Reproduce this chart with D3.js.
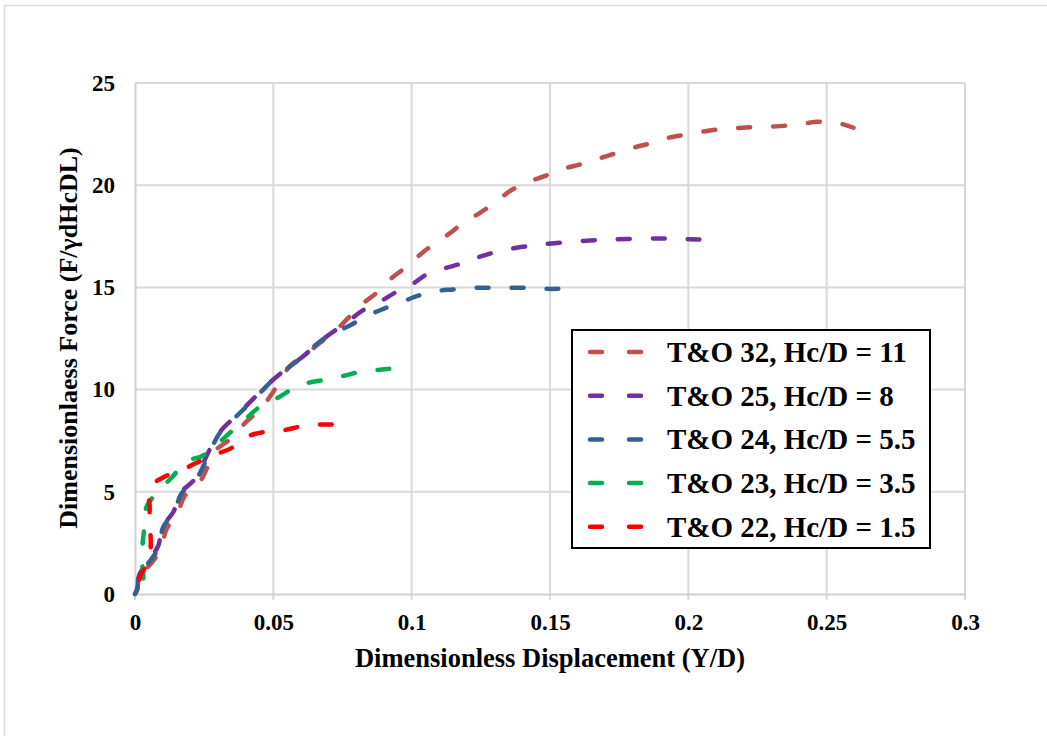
<!DOCTYPE html>
<html lang="en">
<head>
<meta charset="UTF-8">
<title>Dimensionless Force vs Displacement</title>
<script src="https://d3js.org/d3.v7.min.js"></script>
<style>
    body { margin: 0; background: #fff; }
    text { font-family: "Liberation Serif", "Times New Roman", serif; font-weight: bold; fill: #000; }
</style>
</head>
<body>
<svg id="chart" width="1047" height="736"></svg>
<script>
// series data: [Y/D, F/(γ d Hc D L)]
var to32 = [[0,0],[0.0008,0.2],[0.002,0.9],[0.0065,1.6],[0.0095,2.3],[0.0115,3.2],[0.0155,4.0],[0.018,4.8],
    [0.0235,5.5],[0.0265,6.3],[0.029,7.0],[0.0355,7.7],[0.04,8.4],[0.045,9.0],[0.0485,9.6],[0.0524,10.41],
    [0.056,11.15],[0.0608,11.63],[0.0669,12.29],[0.0717,12.78],[0.0771,13.51],[0.0819,14.16],[0.0874,14.74],
    [0.0922,15.39],[0.0976,15.96],[0.1024,16.53],[0.1078,17.1],[0.1132,17.59],[0.1187,18.16],[0.1247,18.65],
    [0.1301,19.14],[0.1355,19.71],[0.1413,20.12],[0.148,20.44],[0.154,20.77],[0.1607,21.01],[0.1667,21.26],
    [0.1734,21.55],[0.1801,21.83],[0.1868,22.07],[0.1928,22.32],[0.1995,22.48],[0.2062,22.64],[0.2129,22.76],
    [0.2195,22.81],[0.2263,22.86],[0.2329,22.89],[0.2396,22.97],[0.2463,23.1],[0.253,23.08],[0.2597,22.81]];
var to25 = [[0,0],[0.0006,0.2],[0.0016,0.95],[0.0052,1.7],[0.0084,2.35],[0.0098,3.25],[0.014,4.05],[0.0162,4.9],
    [0.0216,5.62],[0.0248,6.45],[0.0273,7.15],[0.0305,7.9],[0.0352,8.55],[0.0402,9.2],[0.045,9.85],[0.0498,10.47],
    [0.0555,11.1],[0.0608,11.63],[0.066,12.25],[0.0711,12.78],[0.0765,13.27],[0.0819,13.84],[0.0879,14.25],
    [0.094,14.74],[0.1,15.14],[0.1054,15.63],[0.1114,15.91],[0.1187,16.2],[0.1247,16.5],[0.1313,16.77],
    [0.138,16.94],[0.1446,17.06],[0.1506,17.15],[0.1578,17.23],[0.1645,17.3],[0.1714,17.34],[0.1848,17.39],
    [0.1915,17.39],[0.198,17.36],[0.204,17.34]];
var to24 = [[0,0],[0.0007,0.22],[0.0018,0.95],[0.0058,1.69],[0.0089,2.32],[0.0101,3.25],[0.0143,4.04],[0.0166,4.87],
    [0.022,5.6],[0.0253,6.42],[0.0277,7.15],[0.0307,7.89],[0.0355,8.54],[0.0404,9.19],[0.0452,9.84],[0.05,10.49],
    [0.0554,11.07],[0.0608,11.63],[0.0663,12.29],[0.0717,12.78],[0.0771,13.1],[0.0837,13.59],[0.0892,13.92],
    [0.0958,14.25],[0.1018,14.57],[0.1084,14.81],[0.115,14.9],[0.1223,14.98],[0.1283,14.98],[0.1355,14.98],
    [0.1422,14.98],[0.1488,14.93],[0.153,14.93]];
var to23 = [[0,0],[0.0003,0.2],[0.0029,0.71],[0.0024,1.69],[0.0028,2.52],[0.0036,3.5],[0.0042,4.28],[0.009,5.11],
    [0.0133,5.7],[0.0187,6.5],[0.0241,6.74],[0.0295,7.31],[0.0343,7.89],[0.0398,8.54],[0.0446,9.11],[0.0506,9.52],
    [0.0566,10.0],[0.0626,10.33],[0.0693,10.49],[0.0759,10.69],[0.0825,10.9],[0.0892,10.98],[0.0919,11.02]];
var to22 = [[0,0],[0.0004,0.12],[0.0022,0.95],[0.005,1.64],[0.0057,2.42],[0.0053,3.5],[0.0053,4.28],[0.0052,5.2],
    [0.01,5.69],[0.0169,6.06],[0.0223,6.42],[0.0289,6.82],[0.035,7.15],[0.0404,7.69],[0.0464,7.92],[0.0536,8.01],
    [0.0603,8.21],[0.0669,8.29],[0.0711,8.29]];

var seriesNames = ['T&O 32, Hc/D = 11', 'T&O 25, Hc/D = 8', 'T&O 24, Hc/D = 5.5', 'T&O 23, Hc/D = 3.5', 'T&O 22, Hc/D = 1.5'];
var seriesData = [to32, to25, to24, to23, to22];
var seriesColors = ['#C0504D', '#7030A0', '#366092', '#00B050', '#FF0000'];
var xTicks = [0, 0.05, 0.1, 0.15, 0.2, 0.25, 0.3];
var yTicks = [0, 5, 10, 15, 20, 25];

var svg = d3.select('#chart');

// chart area border
svg.append('rect')
    .attr('x', 4.5).attr('y', 5.5)
    .attr('width', 1100).attr('height', 800)
    .attr('fill', '#fff')
    .attr('stroke', '#d9d9d9')
    .attr('stroke-width', 1.5);

var xScale = d3.scaleLinear().domain([0, 0.3]).range([135, 965]);
var yScale = d3.scaleLinear().domain([0, 25]).range([594, 83]);

// gridlines
var grid = svg.append('g');
grid.selectAll('.vgrid').data(xTicks.slice(1)).enter().append('line')
    .attr('x1', d => xScale(d)).attr('x2', d => xScale(d))
    .attr('y1', yScale(25)).attr('y2', yScale(0) + 6)
    .attr('stroke', '#d9d9d9').attr('stroke-width', 2);
grid.selectAll('.hgrid').data(yTicks.slice(1)).enter().append('line')
    .attr('x1', xScale(0)).attr('x2', xScale(0.3))
    .attr('y1', d => yScale(d)).attr('y2', d => yScale(d))
    .attr('stroke', '#d9d9d9').attr('stroke-width', 2);

// axes
var xAxis = d3.axisBottom(xScale).tickValues(xTicks).tickSize(0).tickPadding(20)
    .tickFormat(d => d === 0 ? '0' : String(+d.toFixed(2)));
var yAxis = d3.axisLeft(yScale).tickValues(yTicks).tickSize(0).tickPadding(20);

var xAxisG = svg.append('g').attr('transform', `translate(0, ${yScale(0)})`).call(xAxis);
var yAxisG = svg.append('g').attr('transform', `translate(${xScale(0)}, 0)`).call(yAxis);
[xAxisG, yAxisG].forEach(g => {
    g.select('.domain').attr('stroke', '#d0d0d0').attr('stroke-width', 2);
    g.selectAll('text').style('font-size', '23px')
        .style('font-family', '"Liberation Serif", "Times New Roman", serif')
        .style('font-weight', 'bold');
});
xAxisG.append('line').attr('x1', xScale(0)).attr('x2', xScale(0)).attr('y1', 0).attr('y2', 6)
    .attr('stroke', '#d0d0d0').attr('stroke-width', 2);

// axis titles
svg.append('text')
    .attr('x', 550).attr('y', 667)
    .attr('text-anchor', 'middle')
    .style('font-size', '26.5px')
    .text('Dimensionless Displacement (Y/D)');
svg.append('text')
    .attr('transform', 'translate(77, 338) rotate(-90)')
    .attr('text-anchor', 'middle')
    .style('font-size', '26px')
    .text('Dimensionlaess Force (F/γdHcDL)');

// series
var line = d3.line()
    .x(d => xScale(d[0]))
    .y(d => yScale(d[1]))
    .curve(d3.curveCatmullRom.alpha(0.5));

var dash = 12, gap = 23;
svg.append('g').selectAll('path').data(seriesData).enter().append('path')
    .attr('d', d => line(d))
    .attr('fill', 'none')
    .attr('stroke', (d, i) => seriesColors[i])
    .attr('stroke-width', 4.5)
    .attr('stroke-linecap', 'round')
    .attr('stroke-dasharray', dash + ' ' + gap)
    .attr('stroke-dashoffset', function () {
        // let every curve end on a dash, as in the original
        var len = this.getTotalLength(), period = dash + gap;
        return ((dash - len) % period + period) % period;
    });

// legend
var legend = svg.append('g');
legend.append('rect')
    .attr('x', 572).attr('y', 330)
    .attr('width', 358).attr('height', 218)
    .attr('fill', '#fff')
    .attr('stroke', '#000')
    .attr('stroke-width', 2);

var rows = legend.selectAll('.row').data(seriesNames).enter().append('g')
    .attr('transform', (d, i) => `translate(0, ${352 + i * 43.7})`);
rows.append('line')
    .attr('x1', 590).attr('x2', 641)
    .attr('y1', 0).attr('y2', 0)
    .attr('stroke', (d, i) => seriesColors[i])
    .attr('stroke-width', 4.5)
    .attr('stroke-linecap', 'round')
    .attr('stroke-dasharray', '12 27');
rows.append('text')
    .attr('x', 667).attr('y', 10)
    .style('font-size', '29px')
    .text(d => d);
</script>
</body>
</html>
